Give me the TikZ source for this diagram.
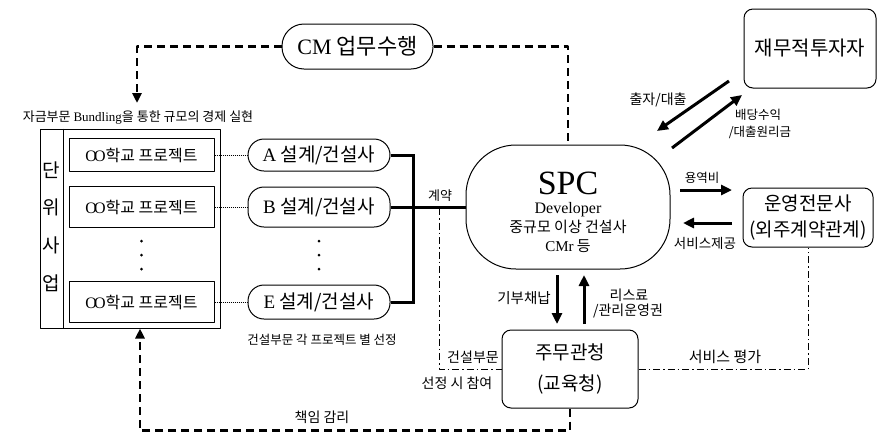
\documentclass[tikz,border=0pt]{standalone}
\usepackage{fontspec}
\setmainfont{Noto Sans CJK KR}
\newfontfamily\serifpart{Liberation Serif}
\usetikzlibrary{arrows.meta}
\newcommand\fsz[1]{\fontsize{#1}{#1}\selectfont}
\newcommand\dbl{{\serifpart O\kern-3pt O}}

\begin{document}
\begin{tikzpicture}[x=1pt,y=-1pt,line join=round,
  box/.style={draw,line width=1pt,inner sep=0pt},
  rbox/.style={box,rounded corners=9pt},
  pill/.style={box,rounded corners=16pt,minimum width=142,font=\fsz{19}},
  proj/.style={box,minimum width=145,font=\fsz{16}},
  lbl/.style={inner sep=0pt,font=\fsz{#1}},
  thk/.style={line width=3pt,line join=miter},
  ddash/.style={line width=2.5pt,dash pattern=on 8pt off 5pt},
  dchain/.style={line width=1pt,dash pattern=on 7pt off 3pt on 1.5pt off 3pt},
  dotc/.style={line width=1pt,dash pattern=on 1pt off 1pt},
  flow/.style={line width=3pt,-{Triangle[length=11pt,width=10pt]}},
  tip/.style={-{Triangle[length=10pt,width=9pt]}}]
\useasboundingbox (0,0) rectangle (877,437);

% main parties
\node[box,rounded corners=22pt,minimum width=151,minimum height=45,font=\fsz{22}] (cm) at (357.5,46.5) {{\serifpart CM} 업무수행};
\node[box,rounded corners=50pt,minimum width=204,minimum height=124] (spc) at (568,207) {};
\node[lbl=34,font={\serifpart\fsz{34}}] (spcname) at (568,183) {SPC};
\node[lbl=16,font={\serifpart\fsz{16}}] (spcdev) at (568,210) {Developer};
\node[lbl=15] (spcmid) at (568,227) {중규모 이상 건설사};
\node[lbl=15] (spccmr) at (568,246) {{\serifpart CMr} 등};
\node[rbox,minimum width=132,minimum height=79,font=\fsz{20}] (fin) at (810,48.5) {재무적투자자};
\node[rbox,minimum width=130,minimum height=59,align=center,font={\fontsize{19}{26}\selectfont}] (opm) at (808,217.5) {운영전문사\\(외주계약관계)};
\node[rbox,minimum width=136,minimum height=78,align=center,font={\fontsize{19}{31}\selectfont}] (jmg) at (570,369) {주무관청\\(교육청)};

% unit projects
\node[lbl=13] (bund) at (138,118) {자금부문 {\serifpart Bundling}을 통한 규모의 경제 실현};
\node[box,minimum width=180,minimum height=199] (grp) at (130,228.5) {};
\draw[line width=1pt] ([xshift=24pt]grp.north west) -- ([xshift=24pt]grp.south west);
\node[lbl=19,align=center,font={\fontsize{19}{37.7}\selectfont}] (unit) at (51.5,226.5) {단\\위\\사\\업};
\node[proj,minimum height=33] (p1) at (141.5,155) {\dbl 학교 프로젝트};
\node[proj,minimum height=41] (p2) at (141.5,207) {\dbl 학교 프로젝트};
\node[proj,minimum height=41] (p3) at (141.5,302) {\dbl 학교 프로젝트};
\node[pill,minimum height=32] (a1) at (319,155) {{\serifpart A} 설계/건설사};
\node[pill,minimum height=40] (b1) at (319,207) {{\serifpart B} 설계/건설사};
\node[pill,minimum height=34] (e1) at (319,302) {{\serifpart E} 설계/건설사};
\foreach \y in {241,255,269}
  \fill (141.5,\y) circle (1.5pt) (319,\y) circle (1.5pt);
\node[lbl=12.5] (sel) at (322,340) {건설부문 각 프로젝트 별 선정};

\draw[dotc] (p1.east) -- (a1.west);
\draw[dotc] (p2.east) -- (b1.west);
\draw[dotc] (p3.east) -- (e1.west);
\draw[thk] (a1.east) -- ++(23,0) |- (e1.east);
\draw[thk] (b1.east) -- (spc.west);
\node[lbl=13] (contract) at (440,196) {계약};

% supervision lines
\coordinate (cmdrop) at (137,103);
\draw[ddash,tip] (cm.west) -| (cmdrop);
\draw[ddash] (cm.east) -| (spc.north);
\draw[ddash,tip] (jmg.south) -- ++(0,22) -| ([xshift=10pt]grp.south);
\node[lbl=14] (resp) at (322,417) {책임 감리};

\coordinate (tap) at (439,208);
\draw[dchain] (tap) |- (jmg.west);
\node[lbl=14] (part1) at (473,357) {건설부문};
\node[lbl=14] (part2) at (457,383) {선정 시 참여};
\draw[dchain] (jmg.east) -| (opm.south);
\node[lbl=15] (eval) at (725,357) {서비스 평가};

% money and services
\coordinate (f1) at (729,81); \coordinate (f2) at (657,131);
\coordinate (g1) at (672,148); \coordinate (g2) at (742,95);
\draw[flow] (f1) -- (f2);
\draw[flow] (g1) -- (g2);
\node[lbl=14] (invest) at (658,100) {출자/대출};
\node[lbl=12.5] (divid) at (758,115) {배당수익};
\node[lbl=12.5] (repay) at (760,132) {/대출원리금};

\coordinate (s1) at (680,190); \coordinate (s2) at (732,190);
\coordinate (r1) at (732,223); \coordinate (r2) at (683,223);
\draw[flow] (s1) -- (s2);
\draw[flow] (r1) -- (r2);
\node[lbl=12.5] (fee) at (702,178) {용역비};
\node[lbl=13.5] (serv) at (705,243) {서비스제공};

\coordinate (d1) at (557,275); \coordinate (d2) at (557,324);
\coordinate (l1) at (584,324); \coordinate (l2) at (584,275);
\draw[flow] (d1) -- (d2);
\draw[flow] (l1) -- (l2);
\node[lbl=14.5] (donate) at (524,298) {기부채납};
\node[lbl=14] (lease) at (629,295) {리스료};
\node[lbl=14] (manage) at (628,311) {/관리운영권};
\end{tikzpicture}
\end{document}
